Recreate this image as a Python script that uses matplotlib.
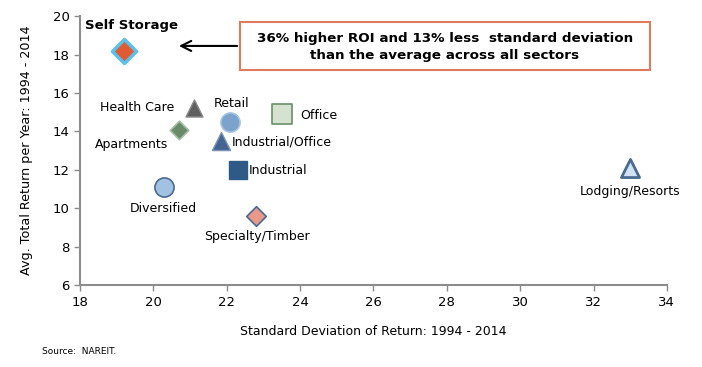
import matplotlib
matplotlib.use("Agg")
import matplotlib.pyplot as plt
from matplotlib.patches import Rectangle

sectors = ["Self Storage", "Health Care", "Apartments", "Retail", "Office",
           "Industrial/Office", "Industrial", "Diversified", "Specialty/Timber",
           "Lodging/Resorts"]
std_dev = [19.2, 21.1, 20.7, 22.1, 23.5, 21.85, 22.3, 20.3, 22.8, 33.0]
avg_return = [18.2, 15.2, 14.1, 14.5, 14.9, 13.5, 12.0, 11.1, 9.6, 12.1]
x_ticks = [18, 20, 22, 24, 26, 28, 30, 32, 34]
y_ticks = [6, 8, 10, 12, 14, 16, 18, 20]

# style per sector: marker, size, face, edge, edge width, label offset (px), ha
styles = {
    "Self Storage": ("D", 150, "#E05A33", "#5BC0EB", 2.5, (7, 25), "center"),
    "Health Care": ("^", 150, "#606060", "#8a8a8a", 1.0, (-19, 1), "right"),
    "Apartments": ("D", 90, "#6A8B6A", "#a9bfa9", 1.2, (-48, -15), "center"),
    "Retail": ("o", 190, "#7BA3CC", "#a8c4e0", 1.2, (1, 18), "center"),
    "Office": ("s", 190, "#D4E2CF", "#6B8E6B", 1.2, (18, -1), "left"),
    "Industrial/Office": ("^", 170, "#44658F", "#7a95b8", 1.0, (11, -1), "left"),
    "Industrial": ("s", 170, "#2F5A88", "#2F5A88", 1.0, (11, -1), "left"),
    "Diversified": ("o", 190, "#A2C2E2", "#4A6A96", 1.2, (-1, -21), "center"),
    "Specialty/Timber": ("D", 100, "#E8998A", "#4A6A96", 1.2, (1, -21), "center"),
    "Lodging/Resorts": ("^", 170, "#D0E2F3", "#4A6A90", 2.0, (0, -24), "center"),
}

plt.rcParams['font.family'] = ['DejaVu Sans']
fig = plt.figure(figsize=(7.02, 3.67), dpi=100)
ax = fig.add_axes([0.114, 0.223, 0.836, 0.733])

for name, xv, yv in zip(sectors, std_dev, avg_return):
    m, s, fc, ec, lw, off, ha = styles[name]
    ax.scatter([xv], [yv], marker=m, s=s, facecolor=fc, edgecolor=ec,
               linewidths=lw, zorder=3)
    bold = name == "Self Storage"
    ax.annotate(name, (xv, yv), xytext=off, textcoords="offset pixels",
                ha=ha, va="center", fontsize=9.5 if bold else 9,
                fontweight="bold" if bold else "normal", color="black")

ax.set_xlim(18, 34)
ax.set_ylim(6, 20)
ax.set_xticks(x_ticks)
ax.set_yticks(y_ticks)
for sp in ["top", "right"]:
    ax.spines[sp].set_visible(False)
for sp in ["left", "bottom"]:
    ax.spines[sp].set_color("#8c8c8c")
    ax.spines[sp].set_linewidth(1.5)
ax.tick_params(colors="#8c8c8c", labelcolor="black", labelsize=9.5,
               length=4, width=1)
ax.set_xlabel("Standard Deviation of Return: 1994 - 2014", fontsize=9, labelpad=12)
ax.set_ylabel("Avg. Total Return per Year: 1994 - 2014", fontsize=9.2, labelpad=14)

# annotation box with arrow
ax.annotate("", xy=(20.62, 18.45), xytext=(22.36, 18.45),
            arrowprops=dict(arrowstyle="->", color="black", lw=1.5,
                            mutation_scale=18))
ax.add_patch(Rectangle((22.36, 17.19), 11.17, 2.5, facecolor="white",
                       edgecolor="#E07A5F", linewidth=1.5, clip_on=False,
                       zorder=4))
ax.text(27.95, 18.42, "36% higher ROI and 13% less  standard deviation\nthan the average across all sectors",
        ha="center", va="center", fontsize=9.7, fontweight="bold",
        linespacing=1.4, zorder=5)

fig.text(0.06, 0.043, "Source:  NAREIT.", fontsize=6.5, ha="left", va="center")

fig.savefig("out.png", dpi=100)
